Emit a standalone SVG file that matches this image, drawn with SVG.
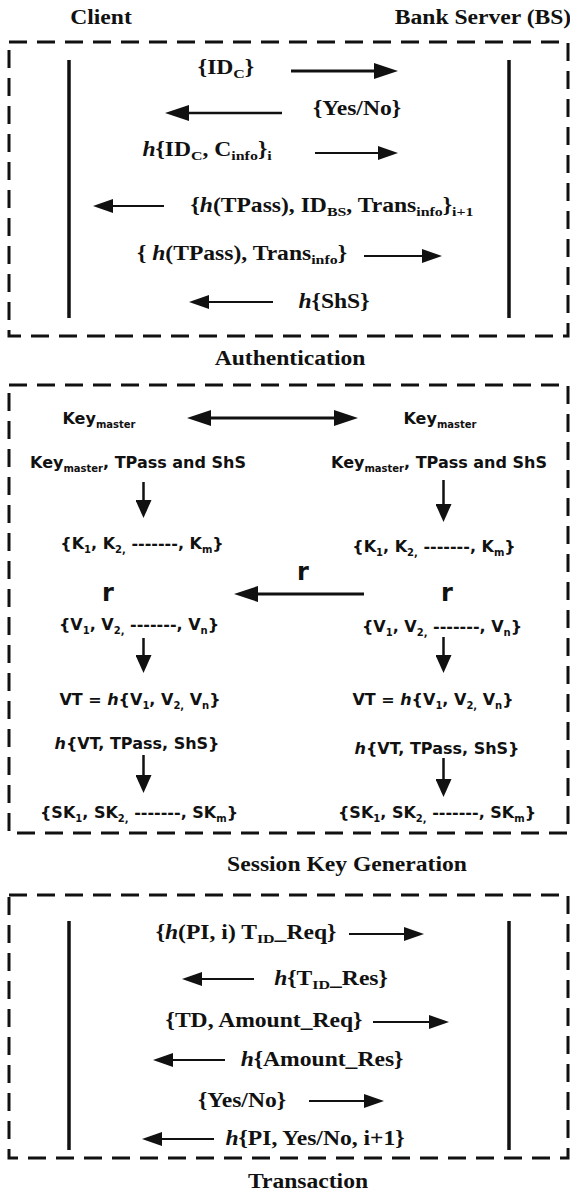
<svg xmlns="http://www.w3.org/2000/svg" width="570" height="1193" viewBox="0 0 570 1193">
<style>
.s{font-family:"Liberation Serif","Times New Roman",serif;font-weight:bold;font-size:20px;fill:#111}
.v{font-family:"DejaVu Sans",Verdana,sans-serif;font-weight:bold;font-size:16px;fill:#111}
.sb{font-size:13.5px}
.vb{font-size:10px}
.i{font-style:italic}
.box{fill:none;stroke:#111;stroke-width:3;stroke-dasharray:18 10}
.life{stroke:#111;stroke-width:3.5}
.ar{stroke:#111;stroke-width:2;fill:none}
.t{stroke-width:3}
.m{stroke-width:2.5}
.big{font-size:24px}
</style>
<defs>
<marker id="a" markerUnits="userSpaceOnUse" markerWidth="20" markerHeight="14" refX="10" refY="7" orient="auto"><path d="M0,0 L20,7 L0,14 z" fill="#111"/></marker>
<marker id="A" markerUnits="userSpaceOnUse" markerWidth="24" markerHeight="16" refX="12" refY="8" orient="auto-start-reverse"><path d="M0,0 L24,8 L0,16 z" fill="#111"/></marker>
<marker id="d" markerUnits="userSpaceOnUse" markerWidth="18" markerHeight="16" refX="9" refY="8" orient="auto"><path d="M0,0 L18,8 L0,16 z" fill="#111"/></marker>
</defs>
<rect width="570" height="1193" fill="#fff"/>

<g id="frames">
<rect id="auth-frame" class="box" x="9" y="42" width="559" height="294"/>
<rect id="skg-frame" class="box" x="9" y="385" width="559" height="448"/>
<rect id="trans-frame" class="box" x="9" y="895" width="559" height="263"/>
</g>

<g id="client-title"><text class="s" text-anchor="middle" transform="translate(101,24) scale(1.18,1)">Client</text></g>
<g id="bs-title"><text class="s" text-anchor="middle" transform="translate(483,24) scale(1.18,1)">Bank Server (BS)</text></g>
<g id="auth-title"><text class="s" text-anchor="middle" transform="translate(290,365) scale(1.18,1)">Authentication</text></g>
<g id="skg-title"><text class="s" text-anchor="middle" transform="translate(347,871) scale(1.18,1)">Session Key Generation</text></g>
<g id="trans-title"><text class="s" text-anchor="middle" transform="translate(308,1188) scale(1.18,1)">Transaction</text></g>

<g id="lifelines">
<line id="client-lifeline-1" class="life" x1="69" y1="60" x2="69" y2="318"/>
<line id="bs-lifeline-1" class="life" x1="509" y1="60" x2="509" y2="318"/>
<line id="client-lifeline-2" class="life" x1="69" y1="921" x2="69" y2="1150"/>
<line id="bs-lifeline-2" class="life" x1="509" y1="921" x2="509" y2="1150"/>
</g>

<g id="auth-m1"><text class="s" text-anchor="middle" transform="translate(226,74) scale(1.18,1)">{ID<tspan class="sb" dy="4">C</tspan><tspan dy="-4">}</tspan></text></g>
<g id="auth-m2"><text class="s" text-anchor="middle" transform="translate(357,115) scale(1.18,1)">{Yes/No}</text></g>
<g id="auth-m3"><text class="s" text-anchor="middle" transform="translate(207,156) scale(1.18,1)"><tspan class="i">h</tspan>{ID<tspan class="sb" dy="4">C</tspan><tspan dy="-4">, C</tspan><tspan class="sb" dy="4">info</tspan><tspan dy="-4">}</tspan><tspan class="sb" dy="4">i</tspan></text></g>
<g id="auth-m4"><text class="s" text-anchor="middle" transform="translate(332,212) scale(1.18,1)">{<tspan class="i">h</tspan>(TPass), ID<tspan class="sb" dy="4">BS</tspan><tspan dy="-4">, Trans</tspan><tspan class="sb" dy="4">info</tspan><tspan dy="-4">}</tspan><tspan class="sb" dy="4">i+1</tspan></text></g>
<g id="auth-m5"><text class="s" text-anchor="middle" transform="translate(242,260) scale(1.18,1)">{ <tspan class="i">h</tspan>(TPass), Trans<tspan class="sb" dy="4">info</tspan><tspan dy="-4">}</tspan></text></g>
<g id="auth-m6"><text class="s" text-anchor="middle" transform="translate(334,308) scale(1.18,1)"><tspan class="i">h</tspan>{ShS}</text></g>

<g id="c-keymaster"><text class="v" text-anchor="middle" x="99" y="424">Key<tspan class="vb" dy="4">master</tspan></text></g>
<g id="bs-keymaster"><text class="v" text-anchor="middle" x="440" y="424">Key<tspan class="vb" dy="4">master</tspan></text></g>
<g id="c-inputs"><text class="v" text-anchor="middle" x="138" y="468">Key<tspan class="vb" dy="4">master</tspan><tspan dy="-4">, TPass and ShS</tspan></text></g>
<g id="bs-inputs"><text class="v" text-anchor="middle" x="439" y="468">Key<tspan class="vb" dy="4">master</tspan><tspan dy="-4">, TPass and ShS</tspan></text></g>
<g id="c-kset"><text class="v" text-anchor="middle" x="142" y="549">{K<tspan class="vb" dy="4">1</tspan><tspan dy="-4">, K</tspan><tspan class="vb" dy="4">2,</tspan><tspan dy="-4"> -------, K</tspan><tspan class="vb" dy="4">m</tspan><tspan dy="-4">}</tspan></text></g>
<g id="bs-kset"><text class="v" text-anchor="middle" x="434" y="552">{K<tspan class="vb" dy="4">1</tspan><tspan dy="-4">, K</tspan><tspan class="vb" dy="4">2,</tspan><tspan dy="-4"> -------, K</tspan><tspan class="vb" dy="4">m</tspan><tspan dy="-4">}</tspan></text></g>
<g id="c-r"><text class="v big" text-anchor="middle" x="108" y="601">r</text></g>
<g id="bs-r"><text class="v big" text-anchor="middle" x="447" y="601">r</text></g>
<g id="c-vset"><text class="v" text-anchor="middle" x="139" y="630">{V<tspan class="vb" dy="4">1</tspan><tspan dy="-4">, V</tspan><tspan class="vb" dy="4">2,</tspan><tspan dy="-4"> -------, V</tspan><tspan class="vb" dy="4">n</tspan><tspan dy="-4">}</tspan></text></g>
<g id="bs-vset"><text class="v" text-anchor="middle" x="442" y="632">{V<tspan class="vb" dy="4">1</tspan><tspan dy="-4">, V</tspan><tspan class="vb" dy="4">2,</tspan><tspan dy="-4"> -------, V</tspan><tspan class="vb" dy="4">n</tspan><tspan dy="-4">}</tspan></text></g>
<g id="c-vt"><text class="v" text-anchor="middle" x="140" y="705">VT = <tspan class="i">h</tspan>{V<tspan class="vb" dy="4">1</tspan><tspan dy="-4">, V</tspan><tspan class="vb" dy="4">2,</tspan><tspan dy="-4"> V</tspan><tspan class="vb" dy="4">n</tspan><tspan dy="-4">}</tspan></text></g>
<g id="bs-vt"><text class="v" text-anchor="middle" x="433" y="705">VT = <tspan class="i">h</tspan>{V<tspan class="vb" dy="4">1</tspan><tspan dy="-4">, V</tspan><tspan class="vb" dy="4">2,</tspan><tspan dy="-4"> V</tspan><tspan class="vb" dy="4">n</tspan><tspan dy="-4">}</tspan></text></g>
<g id="c-hvt"><text class="v" text-anchor="middle" x="137" y="749"><tspan class="i">h</tspan>{VT, TPass, ShS}</text></g>
<g id="bs-hvt"><text class="v" text-anchor="middle" x="437" y="754"><tspan class="i">h</tspan>{VT, TPass, ShS}</text></g>
<g id="c-skset"><text class="v" text-anchor="middle" x="139" y="818">{SK<tspan class="vb" dy="4">1</tspan><tspan dy="-4">, SK</tspan><tspan class="vb" dy="4">2,</tspan><tspan dy="-4"> -------, SK</tspan><tspan class="vb" dy="4">m</tspan><tspan dy="-4">}</tspan></text></g>
<g id="bs-skset"><text class="v" text-anchor="middle" x="437" y="818">{SK<tspan class="vb" dy="4">1</tspan><tspan dy="-4">, SK</tspan><tspan class="vb" dy="4">2,</tspan><tspan dy="-4"> -------, SK</tspan><tspan class="vb" dy="4">m</tspan><tspan dy="-4">}</tspan></text></g>

<g id="tr-m1"><text class="s" text-anchor="middle" transform="translate(246,939) scale(1.18,1)">{<tspan class="i">h</tspan>(PI, i) T<tspan class="sb" dy="4">ID</tspan><tspan dy="-4">_Req}</tspan></text></g>
<g id="tr-m2"><text class="s" text-anchor="middle" transform="translate(331,985) scale(1.18,1)"><tspan class="i">h</tspan>{T<tspan class="sb" dy="4">ID</tspan><tspan dy="-4">_Res}</tspan></text></g>
<g id="tr-m3"><text class="s" text-anchor="middle" transform="translate(264,1027) scale(1.18,1)">{TD, Amount_Req}</text></g>
<g id="tr-m4"><text class="s" text-anchor="middle" transform="translate(322,1066) scale(1.18,1)"><tspan class="i">h</tspan>{Amount_Res}</text></g>
<g id="tr-m5"><text class="s" text-anchor="middle" transform="translate(242,1107) scale(1.18,1)">{Yes/No}</text></g>
<g id="tr-m6"><text class="s" text-anchor="middle" transform="translate(315,1145) scale(1.18,1)"><tspan class="i">h</tspan>{PI, Yes/No, i+1}</text></g>

<g id="connectors">
<line class="ar t" x1="291" y1="71" x2="386" y2="71" marker-end="url(#A)"/>
<line class="ar m" x1="282" y1="113" x2="177" y2="113" marker-end="url(#A)"/>
<line class="ar" x1="315" y1="153" x2="388" y2="153" marker-end="url(#a)"/>
<line class="ar" x1="164" y1="206" x2="103" y2="206" marker-end="url(#a)"/>
<line class="ar" x1="364" y1="256" x2="432" y2="256" marker-end="url(#a)"/>
<line class="ar" x1="273" y1="302" x2="199" y2="302" marker-end="url(#a)"/>

<line class="ar t" x1="199" y1="418" x2="346" y2="418" marker-start="url(#A)" marker-end="url(#A)"/>
<line class="ar m" x1="143.5" y1="482" x2="143.5" y2="509" marker-end="url(#d)"/>
<line class="ar m" x1="443.5" y1="480" x2="443.5" y2="513" marker-end="url(#d)"/>
<line class="ar t" x1="364" y1="594" x2="246" y2="594" marker-end="url(#A)"/>
<text id="r-label" class="v big" text-anchor="middle" x="303" y="580">r</text>
<line class="ar m" x1="143.5" y1="638" x2="143.5" y2="664" marker-end="url(#d)"/>
<line class="ar m" x1="443.5" y1="637" x2="443.5" y2="664" marker-end="url(#d)"/>
<line class="ar m" x1="143.5" y1="755" x2="143.5" y2="784" marker-end="url(#d)"/>
<line class="ar m" x1="443.5" y1="758" x2="443.5" y2="788" marker-end="url(#d)"/>

<line class="ar" x1="349" y1="934" x2="414" y2="934" marker-end="url(#a)"/>
<line class="ar" x1="254" y1="979" x2="192" y2="979" marker-end="url(#a)"/>
<line class="ar" x1="373" y1="1022" x2="439" y2="1022" marker-end="url(#a)"/>
<line class="ar" x1="225" y1="1060" x2="163" y2="1060" marker-end="url(#a)"/>
<line class="ar" x1="309" y1="1101" x2="374" y2="1101" marker-end="url(#a)"/>
<line class="ar" x1="214" y1="1139" x2="152" y2="1139" marker-end="url(#a)"/>
</g>
</svg>
